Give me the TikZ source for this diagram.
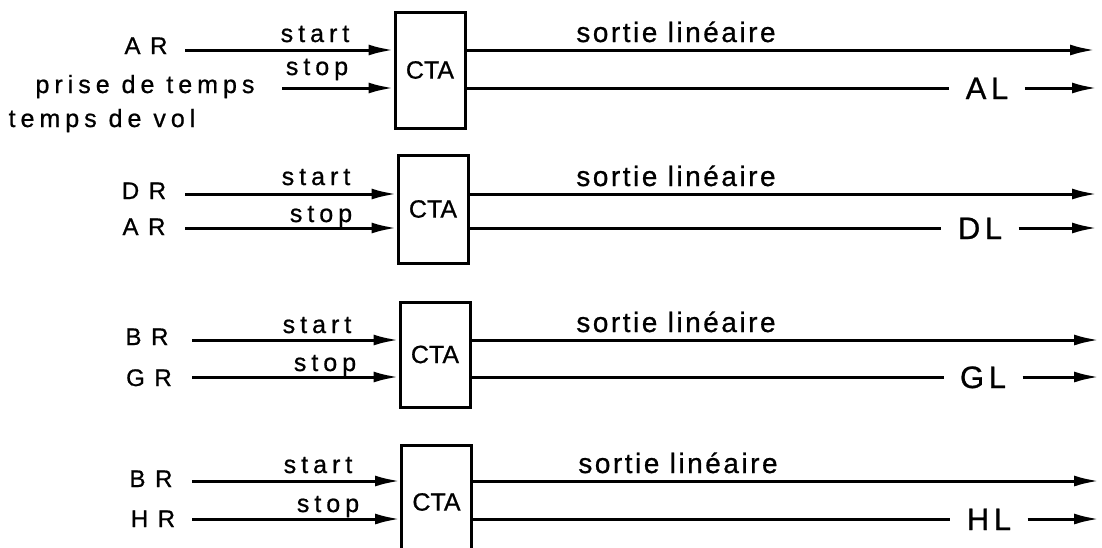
\documentclass[tikz,border=0pt]{standalone}
\usepackage{fontspec}
\setmainfont{Liberation Sans}[FakeBold=0.8]
\usetikzlibrary{arrows.meta}
\begin{document}
\begin{tikzpicture}[x=1pt,y=-1pt,line width=3pt,
  arr/.style={-{Latex[length=25pt,width=11pt]}},
  ctabox/.style={draw,line width=3pt,minimum width=70pt,inner sep=0pt,font={\fontsize{25}{25}\selectfont\addfontfeatures{FakeBold=0.8}}},
  sig/.style={anchor=base,inner sep=0pt,font={\fontsize{24}{24}\selectfont\addfontfeatures{LetterSpace=40,FakeBold=0.8}}},
  inlab/.style={anchor=base,inner sep=0pt,font={\fontsize{25}{25}\selectfont\addfontfeatures{LetterSpace=20,FakeBold=0.8}}},
  outlab/.style={anchor=base,inner sep=0pt,font={\fontsize{28}{28}\selectfont\addfontfeatures{LetterSpace=9,FakeBold=0.8}}},
  outsig/.style={anchor=base,inner ysep=0pt,inner xsep=15pt,font={\fontsize{31}{31}\selectfont\addfontfeatures{LetterSpace=15,FakeBold=0.8}}},
]
\useasboundingbox (0,0) rectangle (1102,547);
\clip (0,0) rectangle (1102,547);

% ---------- row 1 ----------
\node[ctabox,minimum height=116pt] (c1) at (430,70) {CTA};
\node[sig] (s1a) at (146,54) {AR};
\node[inlab] (p1) at (145,93) {prise de temps};
\node[inlab] (p2) at (102,127) {temps de vol};
\node[inlab] (st1) at (315,42) {start};
\node[inlab] (sp1) at (317,75) {stop};
\node[outlab] (so1) at (676,42) {sortie linéaire};
\node[outsig] (o1) at (987,99) {AL};
\coordinate (i1a) at (185,50);
\coordinate (i1b) at (282,88);
\coordinate (e1a) at (1095,50);
\coordinate (e1b) at (1097,88);
\draw[arr] (i1a) -- (i1a -| c1.west);
\draw[arr] (i1b) -- (i1b -| c1.west);
\draw[arr] (c1.east |- e1a) -- (e1a);
\draw (c1.east |- e1b) -- (o1.west |- e1b);
\draw[arr] (o1.east |- e1b) -- (e1b);

% ---------- row 2 ----------
\node[ctabox,minimum height=108pt] (c2) at (433,209) {CTA};
\node[sig] (s2a) at (144,199) {DR};
\node[sig] (s2b) at (144,235) {AR};
\node[inlab] (st2) at (316,185) {start};
\node[inlab] (sp2) at (321,222) {stop};
\node[outlab] (so2) at (676,186) {sortie linéaire};
\node[outsig] (o2) at (980,239) {DL};
\coordinate (i2a) at (185,194);
\coordinate (i2b) at (185,228);
\coordinate (e2a) at (1097,194);
\coordinate (e2b) at (1097,228);
\draw[arr] (i2a) -- (i2a -| c2.west);
\draw[arr] (i2b) -- (i2b -| c2.west);
\draw[arr] (c2.east |- e2a) -- (e2a);
\draw (c2.east |- e2b) -- (o2.west |- e2b);
\draw[arr] (o2.east |- e2b) -- (e2b);

% ---------- row 3 ----------
\node[ctabox,minimum height=105pt] (c3) at (435,354.5) {CTA};
\node[sig] (s3a) at (147,345) {BR};
\node[sig] (s3b) at (149,386) {GR};
\node[inlab] (st3) at (317,333) {start};
\node[inlab] (sp3) at (325,371) {stop};
\node[outlab] (so3) at (676,332) {sortie linéaire};
\node[outsig] (o3) at (983,388) {GL};
\coordinate (i3a) at (192,340);
\coordinate (i3b) at (192,377);
\coordinate (e3a) at (1099,340);
\coordinate (e3b) at (1099,377);
\draw[arr] (i3a) -- (i3a -| c3.west);
\draw[arr] (i3b) -- (i3b -| c3.west);
\draw[arr] (c3.east |- e3a) -- (e3a);
\draw (c3.east |- e3b) -- (o3.west |- e3b);
\draw[arr] (o3.east |- e3b) -- (e3b);

% ---------- row 4 ----------
\node[ctabox,minimum height=114pt] (c4) at (436.5,502) {CTA};
\node[sig] (s4a) at (151,487) {BR};
\node[sig] (s4b) at (153,527) {HR};
\node[inlab] (st4) at (318,473) {start};
\node[inlab] (sp4) at (328,512) {stop};
\node[outlab] (so4) at (678,473) {sortie linéaire};
\node[outsig] (o4) at (989,530) {HL};
\coordinate (i4a) at (192,481);
\coordinate (i4b) at (192,519);
\coordinate (e4a) at (1099,481);
\coordinate (e4b) at (1099,519);
\draw[arr] (i4a) -- (i4a -| c4.west);
\draw[arr] (i4b) -- (i4b -| c4.west);
\draw[arr] (c4.east |- e4a) -- (e4a);
\draw (c4.east |- e4b) -- (o4.west |- e4b);
\draw[arr] (o4.east |- e4b) -- (e4b);
\end{tikzpicture}
\end{document}
